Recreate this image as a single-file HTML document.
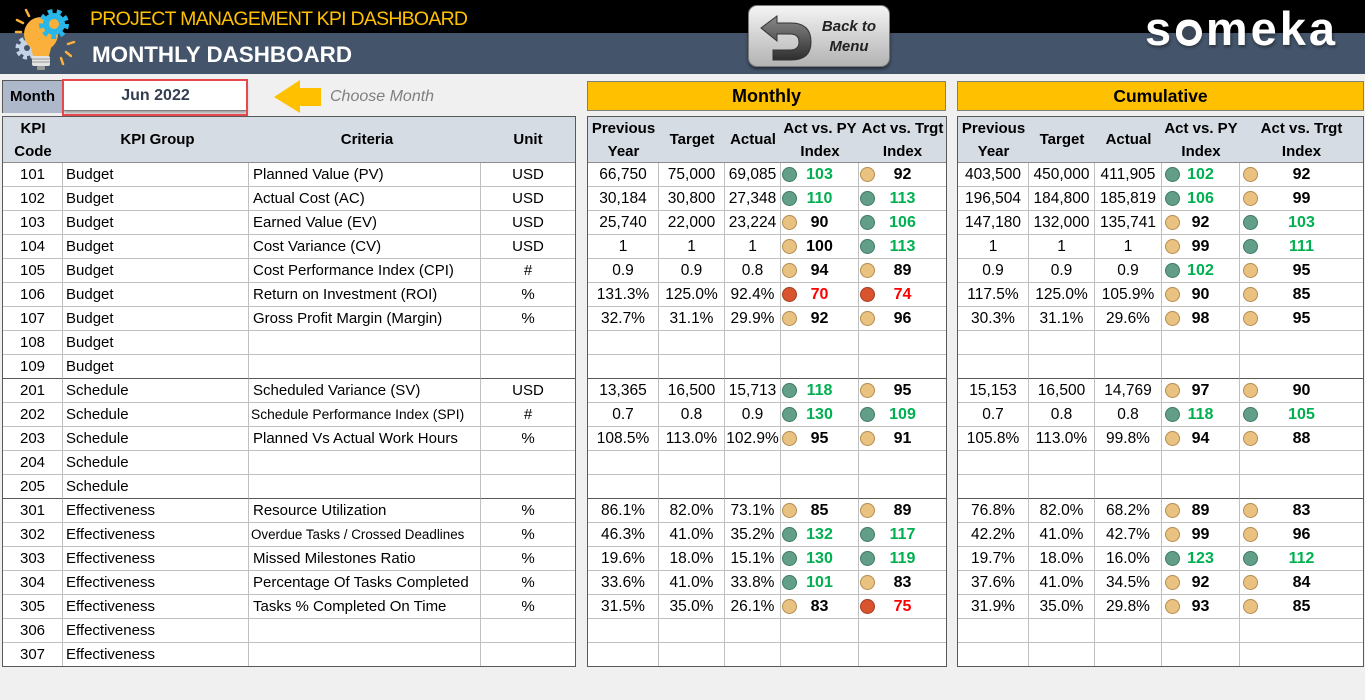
<!DOCTYPE html>
<html><head><meta charset="utf-8"><style>
*{margin:0;padding:0;box-sizing:border-box}
body{width:1365px;height:700px;background:#f0f0f0;font-family:"Liberation Sans",Arial,sans-serif;position:relative;overflow:hidden;color:#000}
.a{position:absolute}
.tb{position:absolute;top:116px;border:1px solid #595959;display:grid;grid-template-rows:46px repeat(20,24px) 23px;background:#fff}
.tb>span{border-right:1px solid #c0c0c0;border-bottom:1px solid #c0c0c0;line-height:24px;white-space:nowrap;overflow:hidden;font-size:15.5px;text-align:center;position:relative}
.tb>span.h{background:#d6dce4;border-right:none;border-bottom:1px solid #8c8c8c;font-weight:bold;font-size:15px;display:flex;align-items:center;justify-content:center;line-height:23px;white-space:nowrap}
#L{left:2px;width:574px;grid-template-columns:60px 186px 232px 94px}
#M{left:587px;width:360px;grid-template-columns:71px 66px 56px 78px 87px}
#C{left:957px;width:407px;grid-template-columns:71px 66px 67px 78px 123px}
#L>span{font-size:15px}
#L>span:nth-child(4n){border-right:none}
#L>span:nth-child(4n+2),#L>span:nth-child(4n+3){text-align:left;padding-left:3px}
#L>span:nth-child(4n+3){padding-left:4px}
#L>span:nth-child(n+37):nth-child(-n+40),#L>span:nth-child(n+57):nth-child(-n+60){border-bottom-color:#595959}
#L>span:nth-last-child(-n+4){border-bottom:none}
#M>span:nth-child(5n),#C>span:nth-child(5n){border-right:none}
#M>span:nth-child(n+46):nth-child(-n+50),#M>span:nth-child(n+71):nth-child(-n+75),
#C>span:nth-child(n+46):nth-child(-n+50),#C>span:nth-child(n+71):nth-child(-n+75){border-bottom-color:#595959}
#M>span:nth-last-child(-n+5),#C>span:nth-last-child(-n+5){border-bottom:none}
#L>span.sm{font-size:13.8px;padding-left:2px}
#L>span.sm2{font-size:13.4px;padding-left:2px}
.x{font-weight:bold}
.tb>span.x{font-size:16px}
.cg{color:#00b050}.cr{color:#ff0000}
.x i{position:absolute;top:4px;left:1px;width:15px;height:15px;border-radius:50%}
#C .x i{left:3px}
i.g{background:#639f88;border:1px solid #3f7a63}
i.t{background:#e9c282;border:1px solid #b38d4f}
i.r{background:#d9532f;border:1px solid #a43c20}
.yl{position:absolute;top:81px;height:30px;background:#ffc000;border:1px solid #7f7f7f;font-weight:bold;text-align:center;line-height:28px}
</style></head><body>

<div class="a" style="left:0;top:0;width:1365px;height:33px;background:#000"></div>
<div class="a" style="left:0;top:33px;width:1365px;height:41px;background:#44546a"></div>

<svg class="a" style="left:8px;top:4px" width="72" height="68" viewBox="0 0 72 68">
  <circle cx="19" cy="44" r="9" fill="none" stroke="#c5d3e8" stroke-width="5" stroke-dasharray="3.8 3.2"/>
  <circle cx="19" cy="44" r="8" fill="#c5d3e8"/>
  <circle cx="19" cy="44" r="3" fill="#44546a"/>
  <circle cx="33" cy="30" r="17" fill="#fbb03b"/>
  <path d="M22 40 L44 40 L41 52 L25 52 Z" fill="#fbb03b"/>
  <rect x="24" y="52" width="18" height="10" rx="2" fill="#e3e3e3"/>
  <line x1="24" y1="55" x2="42" y2="55" stroke="#9a9a9a" stroke-width="1"/>
  <line x1="24" y1="58" x2="42" y2="58" stroke="#9a9a9a" stroke-width="1"/>
  <rect x="29" y="62" width="8" height="4" rx="1" fill="#9a9a9a"/>
  <circle cx="46" cy="20" r="12" fill="none" stroke="#29b6e8" stroke-width="6" stroke-dasharray="4.4 4"/>
  <circle cx="46" cy="20" r="11" fill="#29b6e8"/>
  <circle cx="46" cy="20" r="5" fill="#fbb03b"/>
  <g stroke="#fbb03b" stroke-width="2.5" stroke-linecap="round">
    <line x1="18" y1="6" x2="21" y2="12"/><line x1="9" y1="16" x2="15" y2="19"/><line x1="8" y1="28" x2="13" y2="28"/>
    <line x1="60" y1="40" x2="66" y2="38"/><line x1="58" y1="48" x2="63" y2="52"/><line x1="53" y1="54" x2="55" y2="60"/>
  </g>
</svg>

<div class="a" style="left:90px;top:9px;font-size:19.5px;line-height:20px;color:#ffc000;letter-spacing:-0.75px;white-space:nowrap">PROJECT MANAGEMENT KPI DASHBOARD</div>
<div class="a" style="left:92px;top:44px;font-size:22.4px;line-height:22px;color:#fff;font-weight:bold;white-space:nowrap">MONTHLY DASHBOARD</div>

<div class="a" style="left:748px;top:5px;width:142px;height:62px;border-radius:9px;background:linear-gradient(#f4f4f4,#d6d6d6 45%,#b3b3b3);border:1px solid #7a7a7a;box-shadow:0 2px 3px rgba(0,0,0,.5)">
  <svg class="a" style="left:10px;top:8px" width="56" height="48" viewBox="0 0 56 48">
    <defs><linearGradient id="ag" x1="0" y1="0" x2="0" y2="1"><stop offset="0" stop-color="#8a8a8a"/><stop offset="1" stop-color="#2e2e2e"/></linearGradient></defs>
    <path d="M2 14 L18 2 L18 9 L32 9 Q52 9 52 28 Q52 46 32 46 L14 46 L14 36 L31 36 Q40 36 40 28 Q40 20 31 20 L18 20 L18 27 Z" fill="url(#ag)" stroke="#333" stroke-width="1"/>
  </svg>
  <div class="a" style="left:68px;top:11px;width:64px;text-align:center;font-size:15px;line-height:20px;font-weight:bold;font-style:italic;color:#222">Back to<br>Menu</div>
</div>

<div class="a" style="left:1145px;top:5px;font-size:47px;line-height:47px;color:#fff;font-weight:bold;letter-spacing:3px;white-space:nowrap;text-shadow:1px 2px 3px rgba(0,0,0,.4)">someka</div>
<div class="a" style="left:1176px;top:20px;width:26px;height:26px;border-radius:50%;background:#fff"></div>
<div class="a" style="left:1182px;top:26px;width:14px;height:14px;border-radius:50%;background:#3b4656"></div>

<div class="a" style="left:2px;top:80px;width:61px;height:33px;background:#adb9ca;border-top:1px solid #595959;border-left:1px solid #595959;font-weight:bold;font-size:15px;line-height:31px;padding-left:7px">Month</div>
<div class="a" style="left:64px;top:81px;width:183px;height:30px;background:#fff;box-shadow:0 2px 3px rgba(0,0,0,.35);border-bottom:1px solid #7f7f7f;text-align:center;font-weight:bold;font-size:16px;line-height:29px;color:#333f50">Jun 2022</div>
<div class="a" style="left:62px;top:79px;width:186px;height:37px;border:2px solid #e5484d"></div>
<svg class="a" style="left:0;top:0" width="330" height="120"><polygon points="274,97 300,80 300,88 321,88 321,106 300,106 300,113" fill="#ffc000"/></svg>
<div class="a" style="left:330px;top:87px;font-size:16px;line-height:20px;font-style:italic;color:#7f7f7f;white-space:nowrap">Choose Month</div>

<div class="yl" style="left:587px;width:359px;font-size:18px">Monthly</div>
<div class="yl" style="left:957px;width:407px;font-size:17.5px">Cumulative</div>

<div class="tb" id="L">
<span class="h">KPI<br>Code</span><span class="h">KPI Group</span><span class="h">Criteria</span><span class="h">Unit</span>
<span>101</span><span>Budget</span><span>Planned Value (PV)</span><span>USD</span>
<span>102</span><span>Budget</span><span>Actual Cost (AC)</span><span>USD</span>
<span>103</span><span>Budget</span><span>Earned Value (EV)</span><span>USD</span>
<span>104</span><span>Budget</span><span>Cost Variance (CV)</span><span>USD</span>
<span>105</span><span>Budget</span><span>Cost Performance Index (CPI)</span><span>#</span>
<span>106</span><span>Budget</span><span>Return on Investment (ROI)</span><span>%</span>
<span>107</span><span>Budget</span><span>Gross Profit Margin (Margin)</span><span>%</span>
<span>108</span><span>Budget</span><span></span><span></span>
<span>109</span><span>Budget</span><span></span><span></span>
<span>201</span><span>Schedule</span><span>Scheduled Variance (SV)</span><span>USD</span>
<span>202</span><span>Schedule</span><span class="sm">Schedule Performance Index (SPI)</span><span>#</span>
<span>203</span><span>Schedule</span><span>Planned Vs Actual Work Hours</span><span>%</span>
<span>204</span><span>Schedule</span><span></span><span></span>
<span>205</span><span>Schedule</span><span></span><span></span>
<span>301</span><span>Effectiveness</span><span>Resource Utilization</span><span>%</span>
<span>302</span><span>Effectiveness</span><span class="sm2">Overdue Tasks / Crossed Deadlines</span><span>%</span>
<span>303</span><span>Effectiveness</span><span>Missed Milestones Ratio</span><span>%</span>
<span>304</span><span>Effectiveness</span><span>Percentage Of Tasks Completed</span><span>%</span>
<span>305</span><span>Effectiveness</span><span>Tasks % Completed On Time</span><span>%</span>
<span>306</span><span>Effectiveness</span><span></span><span></span>
<span>307</span><span>Effectiveness</span><span></span><span></span>
</div>

<div class="tb" id="M">
<span class="h">Previous<br>Year</span><span class="h">Target</span><span class="h">Actual</span><span class="h">Act vs. PY<br>Index</span><span class="h">Act vs. Trgt<br>Index</span>
<span>66,750</span><span>75,000</span><span>69,085</span><span class="x cg"><i class="g"></i>103</span><span class="x"><i class="t"></i>92</span>
<span>30,184</span><span>30,800</span><span>27,348</span><span class="x cg"><i class="g"></i>110</span><span class="x cg"><i class="g"></i>113</span>
<span>25,740</span><span>22,000</span><span>23,224</span><span class="x"><i class="t"></i>90</span><span class="x cg"><i class="g"></i>106</span>
<span>1</span><span>1</span><span>1</span><span class="x"><i class="t"></i>100</span><span class="x cg"><i class="g"></i>113</span>
<span>0.9</span><span>0.9</span><span>0.8</span><span class="x"><i class="t"></i>94</span><span class="x"><i class="t"></i>89</span>
<span>131.3%</span><span>125.0%</span><span>92.4%</span><span class="x cr"><i class="r"></i>70</span><span class="x cr"><i class="r"></i>74</span>
<span>32.7%</span><span>31.1%</span><span>29.9%</span><span class="x"><i class="t"></i>92</span><span class="x"><i class="t"></i>96</span>
<span></span><span></span><span></span><span></span><span></span>
<span></span><span></span><span></span><span></span><span></span>
<span>13,365</span><span>16,500</span><span>15,713</span><span class="x cg"><i class="g"></i>118</span><span class="x"><i class="t"></i>95</span>
<span>0.7</span><span>0.8</span><span>0.9</span><span class="x cg"><i class="g"></i>130</span><span class="x cg"><i class="g"></i>109</span>
<span>108.5%</span><span>113.0%</span><span>102.9%</span><span class="x"><i class="t"></i>95</span><span class="x"><i class="t"></i>91</span>
<span></span><span></span><span></span><span></span><span></span>
<span></span><span></span><span></span><span></span><span></span>
<span>86.1%</span><span>82.0%</span><span>73.1%</span><span class="x"><i class="t"></i>85</span><span class="x"><i class="t"></i>89</span>
<span>46.3%</span><span>41.0%</span><span>35.2%</span><span class="x cg"><i class="g"></i>132</span><span class="x cg"><i class="g"></i>117</span>
<span>19.6%</span><span>18.0%</span><span>15.1%</span><span class="x cg"><i class="g"></i>130</span><span class="x cg"><i class="g"></i>119</span>
<span>33.6%</span><span>41.0%</span><span>33.8%</span><span class="x cg"><i class="g"></i>101</span><span class="x"><i class="t"></i>83</span>
<span>31.5%</span><span>35.0%</span><span>26.1%</span><span class="x"><i class="t"></i>83</span><span class="x cr"><i class="r"></i>75</span>
<span></span><span></span><span></span><span></span><span></span>
<span></span><span></span><span></span><span></span><span></span>
</div>

<div class="tb" id="C">
<span class="h">Previous<br>Year</span><span class="h">Target</span><span class="h">Actual</span><span class="h">Act vs. PY<br>Index</span><span class="h">Act vs. Trgt<br>Index</span>
<span>403,500</span><span>450,000</span><span>411,905</span><span class="x cg"><i class="g"></i>102</span><span class="x"><i class="t"></i>92</span>
<span>196,504</span><span>184,800</span><span>185,819</span><span class="x cg"><i class="g"></i>106</span><span class="x"><i class="t"></i>99</span>
<span>147,180</span><span>132,000</span><span>135,741</span><span class="x"><i class="t"></i>92</span><span class="x cg"><i class="g"></i>103</span>
<span>1</span><span>1</span><span>1</span><span class="x"><i class="t"></i>99</span><span class="x cg"><i class="g"></i>111</span>
<span>0.9</span><span>0.9</span><span>0.9</span><span class="x cg"><i class="g"></i>102</span><span class="x"><i class="t"></i>95</span>
<span>117.5%</span><span>125.0%</span><span>105.9%</span><span class="x"><i class="t"></i>90</span><span class="x"><i class="t"></i>85</span>
<span>30.3%</span><span>31.1%</span><span>29.6%</span><span class="x"><i class="t"></i>98</span><span class="x"><i class="t"></i>95</span>
<span></span><span></span><span></span><span></span><span></span>
<span></span><span></span><span></span><span></span><span></span>
<span>15,153</span><span>16,500</span><span>14,769</span><span class="x"><i class="t"></i>97</span><span class="x"><i class="t"></i>90</span>
<span>0.7</span><span>0.8</span><span>0.8</span><span class="x cg"><i class="g"></i>118</span><span class="x cg"><i class="g"></i>105</span>
<span>105.8%</span><span>113.0%</span><span>99.8%</span><span class="x"><i class="t"></i>94</span><span class="x"><i class="t"></i>88</span>
<span></span><span></span><span></span><span></span><span></span>
<span></span><span></span><span></span><span></span><span></span>
<span>76.8%</span><span>82.0%</span><span>68.2%</span><span class="x"><i class="t"></i>89</span><span class="x"><i class="t"></i>83</span>
<span>42.2%</span><span>41.0%</span><span>42.7%</span><span class="x"><i class="t"></i>99</span><span class="x"><i class="t"></i>96</span>
<span>19.7%</span><span>18.0%</span><span>16.0%</span><span class="x cg"><i class="g"></i>123</span><span class="x cg"><i class="g"></i>112</span>
<span>37.6%</span><span>41.0%</span><span>34.5%</span><span class="x"><i class="t"></i>92</span><span class="x"><i class="t"></i>84</span>
<span>31.9%</span><span>35.0%</span><span>29.8%</span><span class="x"><i class="t"></i>93</span><span class="x"><i class="t"></i>85</span>
<span></span><span></span><span></span><span></span><span></span>
<span></span><span></span><span></span><span></span><span></span>
</div>

</body></html>
